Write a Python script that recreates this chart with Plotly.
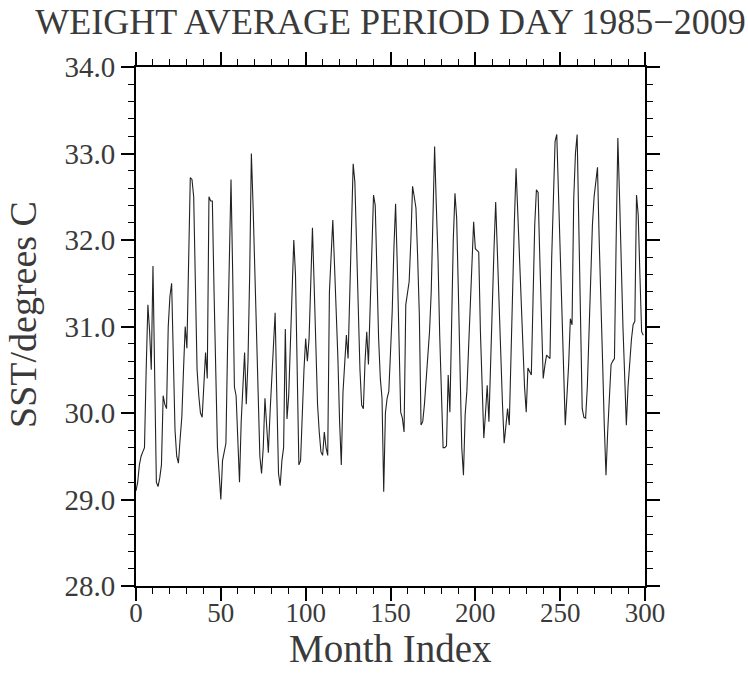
import plotly.graph_objects as go

# SST values, months 0..299 (1985-2009)
sst = [
    29.1, 29.2, 29.4, 29.5, 29.55, 29.6, 30.5, 31.25, 30.95, 30.5,
    31.7, 30.3, 29.2, 29.15, 29.25, 29.4, 30.2, 30.1, 30.05, 31.0,
    31.35, 31.5, 30.6, 29.8, 29.5, 29.42, 29.7, 29.95, 30.5, 31.0,
    30.75, 32.0, 32.72, 32.7, 32.5, 31.5, 30.5, 30.2, 30.0, 29.95,
    30.35, 30.7, 30.4, 32.5, 32.45, 32.45, 31.4, 30.3, 29.6, 29.3,
    29.0, 29.45, 29.55, 29.65, 30.8, 31.8, 32.7, 31.6, 30.3, 30.2,
    29.7, 29.2, 29.9, 30.3, 30.7, 30.1, 30.6, 31.6, 33.0, 32.4,
    31.7, 30.8, 30.0, 29.5, 29.3, 29.6, 30.17, 29.9, 29.54, 30.0,
    30.45, 30.8, 31.16, 30.2, 29.3, 29.16, 29.45, 29.6, 30.97, 29.93,
    30.2, 30.8, 31.5, 32.0, 31.6, 30.4, 29.4, 29.45, 30.0, 30.5,
    30.86, 30.6, 30.86, 31.6, 32.14, 31.48, 30.63, 30.1, 29.78, 29.55,
    29.51, 29.78, 29.6, 29.51, 31.4, 31.9, 32.23, 31.71, 31.2, 30.63,
    29.9, 29.4, 30.24, 30.6, 30.9, 30.63, 31.5, 32.17, 32.88, 32.67,
    32.0, 31.09, 30.5, 30.09, 30.05, 30.6, 30.94, 30.56, 31.21, 32.0,
    32.52, 32.4, 31.5, 30.86, 30.4, 30.17, 29.09, 30.0, 30.17, 30.25,
    30.7, 31.17, 31.9, 32.42, 31.71, 30.8, 30.01, 29.94, 29.78, 31.25,
    31.4, 31.52, 32.0, 32.62, 32.5, 32.37, 31.8, 31.13, 29.86, 29.9,
    30.1, 30.4, 30.6, 30.94, 31.4, 32.2, 33.08, 32.4, 31.79, 30.9,
    30.09, 29.6, 29.6, 29.62, 30.44, 30.01, 31.0, 32.0, 32.54, 32.25,
    31.4, 30.25, 29.6, 29.28, 29.98, 30.25, 30.7, 31.17, 31.7, 32.21,
    31.9, 31.88, 31.86, 30.94, 30.2, 29.71, 30.0, 30.32, 29.9, 30.6,
    31.4, 31.9, 32.44, 31.79, 31.2, 30.63, 30.1, 29.65, 29.9, 30.05,
    29.86, 30.7, 31.6, 32.2, 32.83, 32.3, 31.71, 31.2, 30.63, 30.3,
    30.01, 30.52, 30.48, 30.44, 31.3, 32.17, 32.58, 32.55, 31.79, 31.1,
    30.4, 30.55, 30.67, 30.65, 30.63, 31.79, 32.4, 33.14, 33.22, 32.56,
    31.8, 31.02, 30.4, 29.86, 30.2, 30.56, 31.09, 31.02, 32.48, 33.0,
    33.22, 32.25, 31.2, 30.05, 29.95, 29.94, 30.3, 30.9, 31.5, 32.17,
    32.5, 32.7, 32.84, 32.0, 31.4, 30.6, 29.86, 29.28, 29.78, 30.2,
    30.56, 30.6, 30.63, 32.0, 33.18, 32.5, 31.6, 31.0, 30.44, 29.86,
    30.3, 30.63, 30.85, 31.02, 31.06, 32.52, 32.29, 31.6, 30.94, 30.9,
]
months = list(range(len(sst)))

x_ticks = [0, 50, 100, 150, 200, 250, 300]
y_ticks = [28.0, 29.0, 30.0, 31.0, 32.0, 33.0, 34.0]

title_text = "WEIGHT AVERAGE PERIOD DAY 1985\u22122009"
x_title = "Month Index"
y_title = "SST/degrees C"

FONT = "Liberation Serif, Times New Roman, serif"
TXT = "#3a3a3a"

fig = go.Figure()
fig.add_trace(go.Scatter(x=months, y=sst, mode="lines",
                         line=dict(color="#222222", width=1.1),
                         showlegend=False, hoverinfo="skip"))

fig.update_layout(
    width=748, height=683,
    margin=dict(l=136, r=103, t=67, b=97),
    paper_bgcolor="white", plot_bgcolor="white",
    font=dict(family=FONT, color=TXT),
    title=dict(text=title_text, x=0.5, xref="paper", xanchor="center",
               yref="container", y=1 - 21 / 683, yanchor="middle",
               font=dict(family=FONT, size=36, color=TXT)),
    annotations=[
        dict(text=y_title, xref="paper", yref="paper",
             x=(23 - 136) / 509, y=(586 - 315) / 519,
             xanchor="center", yanchor="middle", textangle=-90,
             showarrow=False, font=dict(family=FONT, size=38, color=TXT)),
        dict(text=x_title, xref="paper", yref="paper",
             x=0.5, y=(586 - 648) / 519,
             xanchor="center", yanchor="middle",
             showarrow=False, font=dict(family=FONT, size=39, color=TXT)),
    ],
)

fig.update_xaxes(
    range=[0, 300], tickvals=x_ticks, ticktext=[str(v) for v in x_ticks],
    showgrid=False, zeroline=False,
    showline=True, linecolor="black", linewidth=2, mirror="allticks",
    ticks="outside", ticklen=13, tickwidth=1.5, tickcolor="black",
    minor=dict(dtick=10, ticks="outside", ticklen=6, tickwidth=1, tickcolor="black", showgrid=False),
    tickfont=dict(family=FONT, size=27, color=TXT),
    ticklabelstandoff=-11,
)
fig.update_yaxes(
    range=[28, 34], tickvals=y_ticks, ticktext=[f"{v:.1f}" for v in y_ticks],
    showgrid=False, zeroline=False,
    showline=True, linecolor="black", linewidth=2, mirror="allticks",
    ticks="outside", ticklen=13, tickwidth=1.5, tickcolor="black",
    minor=dict(dtick=0.2, tick0=28, ticks="outside", ticklen=6, tickwidth=1, tickcolor="black", showgrid=False),
    tickfont=dict(family=FONT, size=29, color=TXT),
)

fig.write_html("out.html")
